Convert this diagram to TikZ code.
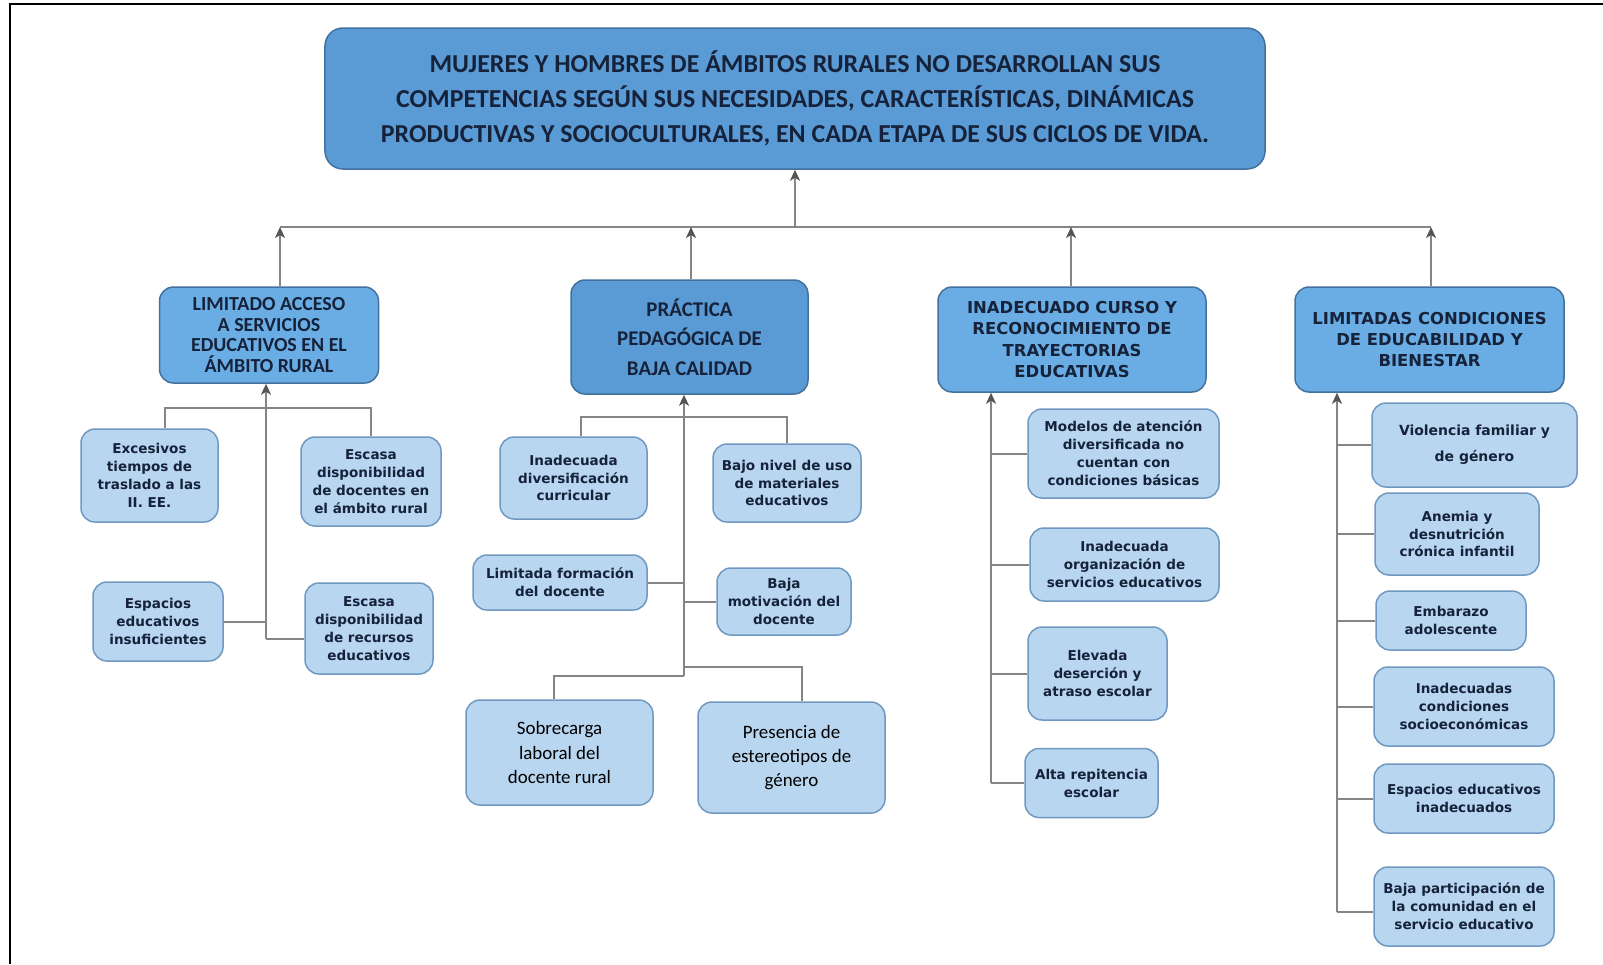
\documentclass[tikz,border=0pt]{standalone}
\usepackage{fontspec}
\newfontfamily\carlito{Carlito}
\newfontfamily\dejavu{DejaVu Sans}
\usetikzlibrary{arrows.meta}

\definecolor{topblue}{HTML}{5B9BD5}
\definecolor{headblue}{HTML}{6AADE4}
\definecolor{paleblue}{HTML}{B8D6F0}
\definecolor{edgeblue}{HTML}{41719C}
\definecolor{paleedge}{HTML}{7098C0}
\definecolor{linkgrey}{HTML}{858585}
\definecolor{tipgrey}{HTML}{555555}
\definecolor{ink}{HTML}{16223A}

\tikzset{
  boxsize/.style 2 args={minimum width=#1bp,minimum height=#2bp},
  topbox/.style={rounded corners=18bp,fill=topblue,draw=edgeblue,line width=1.5bp,
    align=center,text=ink,inner sep=0pt,font=\carlito\bfseries\fontsize{26}{35}\selectfont},
  headbox/.style={rounded corners=14bp,fill=headblue,draw=edgeblue,line width=1.5bp,
    align=center,text=ink,inner sep=0pt},
  subbox/.style={rounded corners=14bp,fill=paleblue,draw=paleedge,line width=1.5bp,
    align=center,text=ink,inner sep=0pt,font=\dejavu\bfseries\fontsize{13.6}{18}\selectfont},
  link/.style={draw=linkgrey,line width=2bp},
  uparrow/.style={link,-{Stealth[length=11bp,width=10bp,inset=3bp,color=tipgrey]}},
}

\begin{document}
\begin{tikzpicture}[x=1bp,y=-1bp]
  \useasboundingbox (0,0) rectangle (1603,964);
  \draw[line width=2.5bp] (10,964) -- (10,4) -- (1603,4);

  % problema central
  \node[topbox,boxsize={940}{141}] (top) at (795,98.5)
    {MUJERES Y HOMBRES DE ÁMBITOS RURALES NO DESARROLLAN SUS\\
     COMPETENCIAS SEGÚN SUS NECESIDADES, CARACTERÍSTICAS, DINÁMICAS\\
     PRODUCTIVAS Y SOCIOCULTURALES, EN CADA ETAPA DE SUS CICLOS DE VIDA.};

  % causas directas
  \node[headbox,boxsize={219}{96},font=\carlito\bfseries\fontsize{20}{20.5}\selectfont] (h1) at (269,335)
    {LIMITADO ACCESO\\A SERVICIOS\\EDUCATIVOS EN EL\\ÁMBITO RURAL};
  \node[headbox,boxsize={237}{114},fill=topblue,font=\carlito\bfseries\fontsize{21}{29.5}\selectfont] (h2) at (689.5,337)
    {PRÁCTICA\\PEDAGÓGICA DE\\BAJA CALIDAD};
  \node[headbox,boxsize={268}{105},font=\dejavu\bfseries\fontsize{16.5}{21.5}\selectfont] (h3) at (1072,339.5)
    {INADECUADO CURSO Y\\RECONOCIMIENTO DE\\TRAYECTORIAS\\EDUCATIVAS};
  \node[headbox,boxsize={269}{105},font=\dejavu\bfseries\fontsize{16.5}{21.5}\selectfont] (h4) at (1429.5,339.5)
    {LIMITADAS CONDICIONES\\DE EDUCABILIDAD Y\\BIENESTAR};

  \coordinate (bar1) at (280,227);
  \coordinate (bar2) at (691,227);
  \coordinate (bar3) at (1071,227);
  \coordinate (bar4) at (1431,227);
  \draw[link] (bar1) -- (bar4);
  \draw[uparrow] (top.south |- bar1) -- (top.south);
  \foreach \i in {1,...,4}
    \draw[uparrow] (h\i.north -| bar\i) -- (bar\i);

  % columna 1
  \node[subbox,boxsize={137}{93}] (c11) at (149.5,475.5) {Excesivos\\tiempos de\\traslado a las\\II. EE.};
  \node[subbox,boxsize={140}{89}] (c12) at (371,481.5) {Escasa\\disponibilidad\\de docentes en\\el ámbito rural};
  \node[subbox,boxsize={130}{79}] (c13) at (158,621.5) {Espacios\\educativos\\insuficientes};
  \node[subbox,boxsize={128}{91}] (c14) at (369,628.5) {Escasa\\disponibilidad\\de recursos\\educativos};
  \coordinate (s1) at (266,639);
  \draw[uparrow] (s1) -- (s1 |- h1.south);
  \draw[link] ([xshift=15bp]c11.north) -- ++(0,-20) -| (c12.north);
  \draw[link] (c13.east) -- (c13.east -| s1);
  \draw[link] (s1) -- (s1 -| c14.west);

  % columna 2
  \node[subbox,boxsize={147}{82}] (c21) at (573.5,478) {Inadecuada\\diversificación\\curricular};
  \node[subbox,boxsize={148}{78}] (c22) at (787,483) {Bajo nivel de uso\\de materiales\\educativos};
  \node[subbox,boxsize={174}{55}] (c23) at (560,582.5) {Limitada formación\\del docente};
  \node[subbox,boxsize={134}{67}] (c24) at (784,601.5) {Baja\\motivación del\\docente};
  \node[subbox,boxsize={187}{105},text=black,font=\carlito\fontsize{19}{24.5}\selectfont] (c25) at (559.5,752.5)
    {Sobrecarga\\laboral del\\docente rural};
  \node[subbox,boxsize={187}{111},text=black,font=\carlito\fontsize{19}{24.5}\selectfont] (c26) at (791.5,757.5)
    {Presencia de\\estereotipos de\\género};
  \coordinate (s2) at (684,676);
  \coordinate (j2) at (684,667);
  \draw[uparrow] (s2) -- (s2 |- h2.south);
  \draw[link] ([xshift=7bp]c21.north) -- ++(0,-19) -| (c22.north);
  \draw[link] (c23.east) -- (c23.east -| s2);
  \draw[link] (c24.west) -- (c24.west -| s2);
  \draw[link] (s2) -| ([xshift=-6bp]c25.north);
  \draw[link] (j2) -| ([xshift=10bp]c26.north);

  % columna 3
  \node[subbox,boxsize={191}{89}] (c31) at (1123.5,453.5) {Modelos de atención\\diversificada no\\cuentan con\\condiciones básicas};
  \node[subbox,boxsize={189}{73}] (c32) at (1124.5,564.5) {Inadecuada\\organización de\\servicios educativos};
  \node[subbox,boxsize={139}{93}] (c33) at (1097.5,673.5) {Elevada\\deserción y\\atraso escolar};
  \node[subbox,boxsize={133}{69}] (c34) at (1091.5,783) {Alta repitencia\\escolar};
  \coordinate (s3) at (991,783);
  \draw[uparrow] (s3) -- (s3 |- h3.south);
  \foreach \i in {1,2,3}
    \draw[link] (c3\i.west) -- (c3\i.west -| s3);
  \draw[link] (s3) -- (c34.west);

  % columna 4
  \node[subbox,boxsize={205}{84},font=\dejavu\bfseries\fontsize{14}{26}\selectfont] (c41) at (1474.5,445)
    {Violencia familiar y\\de género};
  \node[subbox,boxsize={164}{82}] (c42) at (1457,534) {Anemia y\\desnutrición\\crónica infantil};
  \node[subbox,boxsize={150}{59}] (c43) at (1451,620.5) {Embarazo\\adolescente};
  \node[subbox,boxsize={180}{79}] (c44) at (1464,706.5) {Inadecuadas\\condiciones\\socioeconómicas};
  \node[subbox,boxsize={180}{69}] (c45) at (1464,798.5) {Espacios educativos\\inadecuados};
  \node[subbox,boxsize={180}{79}] (c46) at (1464,906.5) {Baja participación de\\la comunidad en el\\servicio educativo};
  \coordinate (s4) at (1337,912);
  \draw[uparrow] (s4) -- (s4 |- h4.south);
  \foreach \i in {1,...,5}
    \draw[link] (c4\i.west) -- (c4\i.west -| s4);
  \draw[link] (s4) -- (s4 -| c46.west);
\end{tikzpicture}
\end{document}
